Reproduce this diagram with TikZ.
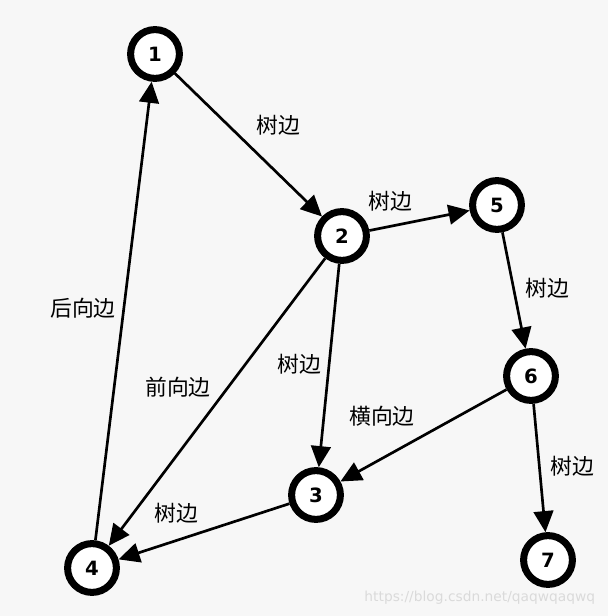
\documentclass[tikz,border=0pt]{standalone}
\usepackage{fontspec}
\usetikzlibrary{arrows.meta}
\newfontfamily\cjk{Noto Sans CJK SC}
\newfontfamily\numfont{DejaVu Sans}
\definecolor{bgcol}{RGB}{247,247,247}
\definecolor{wmcol}{RGB}{218,218,218}

\begin{document}
\begin{tikzpicture}[x=0.025cm,y=-0.025cm,
  vtx/.style={circle,draw=black,fill=white,line width=5pt,minimum size=1.22cm,inner sep=0pt,font=\numfont\bfseries\fontsize{14}{14}\selectfont},
  edge/.style={line width=1.9pt,-{Triangle[length=15pt,width=14pt]}},
  lbl/.style={font=\cjk\fontsize{15.5}{16}\selectfont}]
  % background
  \fill[bgcol] (0,0) rectangle (608,616);
  \useasboundingbox (0,0) rectangle (608,616);
  % vertices
  \node[vtx] (v1) at (155,54) {1};
  \node[vtx] (v2) at (342,236) {2};
  \node[vtx] (v5) at (497,205) {5};
  \node[vtx] (v6) at (531,376) {6};
  \node[vtx] (v3) at (316,495) {3};
  \node[vtx] (v4) at (92,568) {4};
  \node[vtx] (v7) at (548,560) {7};
  % edges
  \draw[edge] (v1) -- (v2);
  \draw[edge] (v2) -- (v5);
  \draw[edge] (v5) -- (v6);
  \draw[edge] (v2) -- (v3);
  \draw[edge] (v2) -- (v4);
  \draw[edge] (v4) -- (v1);
  \draw[edge] (v6) -- (v3);
  \draw[edge] (v3) -- (v4);
  \draw[edge] (v6) -- (v7);
  % labels
  \node[lbl] (l12) at (278,125) {树边};
  \node[lbl] (l25) at (390,201) {树边};
  \node[lbl] (l56) at (547,288) {树边};
  \node[lbl] (l41) at (83,308) {后向边};
  \node[lbl] (l24) at (178,387) {前向边};
  \node[lbl] (l23) at (299,364) {树边};
  \node[lbl] (l63) at (382,416) {横向边};
  \node[lbl] (l67) at (572,466) {树边};
  \node[lbl] (l34) at (176,513) {树边};
  % watermark
  \node[text=wmcol,font=\fontspec{DejaVu Sans}\fontsize{9.8}{10}\selectfont,anchor=east] (wm) at (600,598) {https://blog.csdn.net/qaqwqaqwq};
\end{tikzpicture}
\end{document}
